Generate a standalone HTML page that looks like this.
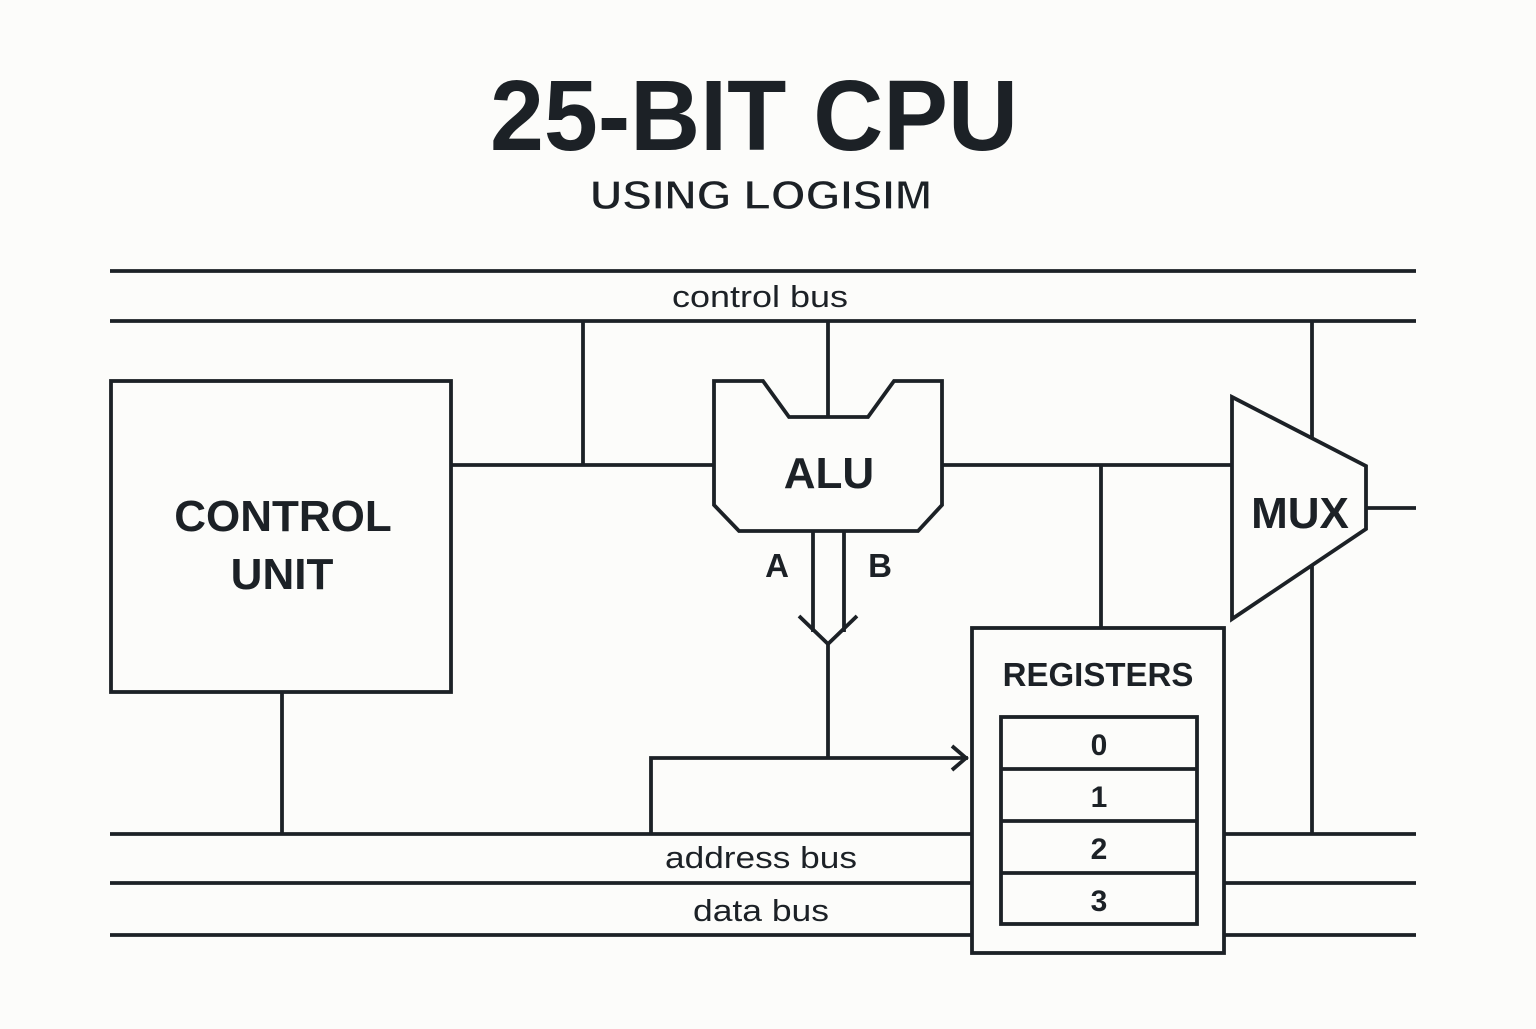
<!DOCTYPE html>
<html><head><style>html,body{margin:0;padding:0;background:#fcfcfa}</style></head>
<body>
<svg width="1536" height="1024" viewBox="0 0 1536 1024" xmlns="http://www.w3.org/2000/svg" font-family="Liberation Sans, sans-serif" fill="#1c2126">
<rect width="1536" height="1024" fill="#fcfcfa"/>
<text x="754" y="150" font-size="100" font-weight="bold" text-anchor="middle" textLength="528" lengthAdjust="spacingAndGlyphs">25-BIT CPU</text>
<text x="761" y="209" font-size="41" text-anchor="middle" textLength="342" lengthAdjust="spacingAndGlyphs" font-weight="bold" stroke="#fcfcfa" stroke-width="1.2">USING LOGISIM</text>
<g stroke="#1c2126" stroke-width="3.8" fill="none">
<line x1="110" y1="271" x2="1416" y2="271"/>
<line x1="110" y1="321" x2="1416" y2="321"/>
<line x1="110" y1="834" x2="1416" y2="834"/>
<line x1="110" y1="883" x2="1416" y2="883"/>
<line x1="110" y1="935" x2="1416" y2="935"/>
<line x1="583" y1="321" x2="583" y2="465"/>
<line x1="828" y1="321" x2="828" y2="417"/>
<line x1="1312" y1="321" x2="1312" y2="834"/>
<line x1="451" y1="465" x2="714" y2="465"/>
<line x1="942" y1="465" x2="1232" y2="465"/>
<line x1="1101" y1="465" x2="1101" y2="628"/>
<line x1="1366" y1="508" x2="1416" y2="508"/>
<line x1="282" y1="692" x2="282" y2="834"/>
<line x1="813" y1="531" x2="813" y2="632"/>
<line x1="844" y1="531" x2="844" y2="632"/>
<polyline points="799,616 828,644 857,616"/>
<line x1="828" y1="644" x2="828" y2="758"/>
<polyline points="651,834 651,758 968,758"/>
<polyline points="952,746 966,758 952,770"/>
<rect x="111" y="381" width="340" height="311" fill="#fcfcfa"/>
<polygon points="714,381 763,381 789,417 868,417 894,381 942,381 942,505 918,531 739,531 714,505" fill="#fcfcfa"/>
<polygon points="1232,397 1366,466 1366,529 1232,619" fill="#fcfcfa"/>
<rect x="972" y="628" width="252" height="325" fill="#fcfcfa"/>
<rect x="1001" y="717" width="196" height="207" fill="#fcfcfa"/>
<line x1="1001" y1="769" x2="1197" y2="769"/>
<line x1="1001" y1="821" x2="1197" y2="821"/>
<line x1="1001" y1="873" x2="1197" y2="873"/>
</g>
<g font-weight="bold" text-anchor="middle">
<text x="283" y="531" font-size="44">CONTROL</text>
<text x="282" y="589" font-size="44">UNIT</text>
<text x="829" y="488" font-size="44">ALU</text>
<text x="1300" y="528" font-size="44">MUX</text>
<text x="1098" y="686" font-size="33">REGISTERS</text>
<text x="777" y="577" font-size="33">A</text>
<text x="880" y="577" font-size="33">B</text>
<text x="1099" y="755" font-size="30">0</text>
<text x="1099" y="807" font-size="30">1</text>
<text x="1099" y="859" font-size="30">2</text>
<text x="1099" y="911" font-size="30">3</text>
</g>
<g text-anchor="middle" font-size="31">
<text x="760" y="307" textLength="176" lengthAdjust="spacingAndGlyphs">control bus</text>
<text x="761" y="868" textLength="192" lengthAdjust="spacingAndGlyphs">address bus</text>
<text x="761" y="921" textLength="136" lengthAdjust="spacingAndGlyphs">data bus</text>
</g>
</svg>
</body></html>
